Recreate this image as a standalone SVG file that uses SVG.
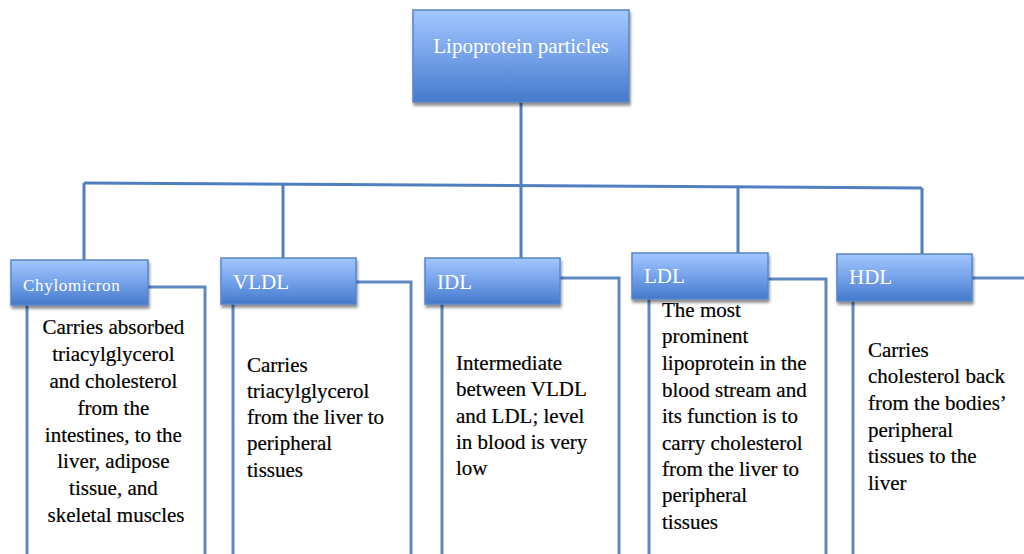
<svg xmlns="http://www.w3.org/2000/svg" width="1024" height="554" viewBox="0 0 1024 554">
<defs>
<linearGradient id="hg" x1="0" y1="0" x2="0" y2="1">
<stop offset="0" stop-color="#a3c6ff"/>
<stop offset="0.45" stop-color="#7aa6ec"/>
<stop offset="1" stop-color="#4479cc"/>
</linearGradient>
<filter id="sh" x="-5%" y="-5%" width="115%" height="125%">
<feGaussianBlur in="SourceAlpha" stdDeviation="1.5"/>
<feOffset dx="1" dy="2.5"/>
<feComponentTransfer><feFuncA type="linear" slope="0.45"/></feComponentTransfer>
<feMerge><feMergeNode/><feMergeNode in="SourceGraphic"/></feMerge>
</filter>
</defs>
<style>
.hdr{fill:url(#hg);stroke:#5a86c6;stroke-width:1.5;filter:url(#sh)}
.ht{font-family:"Liberation Serif","Times New Roman",serif;fill:#ffffff;font-size:21px}
.ct{font-family:"Liberation Serif","Times New Roman",serif;fill:#000000;font-size:21px;stroke:#000000;stroke-width:0.2}
.ln{stroke:#4f7fbf;stroke-width:3;fill:none}
.bx{stroke:#5f88c2;stroke-width:3;fill:none}
</style>
<rect width="1024" height="554" fill="#ffffff"/>
<g id="connectors">
<line class="ln" x1="521" y1="102" x2="521" y2="258"/>
<line class="ln" x1="84" y1="183" x2="922" y2="188"/>
<line class="ln" x1="84" y1="183" x2="84" y2="260"/>
<line class="ln" x1="283" y1="184" x2="283" y2="258"/>
<line class="ln" x1="738" y1="187" x2="738" y2="253"/>
<line class="ln" x1="922" y1="188" x2="922" y2="254"/>
</g>
<g id="root">
<rect class="hdr" x="413" y="10" width="216" height="92"/>
<text class="ht" x="521" y="53" text-anchor="middle">Lipoprotein particles</text>
</g>
<g id="chylomicron">
<path class="bx" d="M27,305 V554 M148,287 H205 V554"/>
<rect class="hdr" x="11" y="260" width="137" height="45"/>
<text class="ht" x="23" y="291" style="font-size:17px;letter-spacing:0.7px">Chylomicron</text>
<text class="ct" text-anchor="middle">
<tspan x="116" y="334">Carries absorbed</tspan>
<tspan x="116" y="361">triacylglycerol</tspan>
<tspan x="116" y="388">and cholesterol</tspan>
<tspan x="116" y="415">from the</tspan>
<tspan x="116" y="442">intestines, to the</tspan>
<tspan x="116" y="468">liver, adipose</tspan>
<tspan x="116" y="495">tissue, and</tspan>
<tspan x="116" y="522">skeletal muscles</tspan>
</text>
</g>
<g id="vldl">
<path class="bx" d="M233,304 V554 M356,282 H411 V554"/>
<rect class="hdr" x="221" y="258" width="135" height="46"/>
<text class="ht" x="233" y="289">VLDL</text>
<text class="ct">
<tspan x="247" y="372">Carries</tspan>
<tspan x="247" y="398">triacylglycerol</tspan>
<tspan x="247" y="424">from the liver to</tspan>
<tspan x="247" y="450">peripheral</tspan>
<tspan x="247" y="477">tissues</tspan>
</text>
</g>
<g id="idl">
<path class="bx" d="M442,304 V554 M560,278 H619 V554"/>
<rect class="hdr" x="425" y="258" width="135" height="46"/>
<text class="ht" x="437" y="289">IDL</text>
<text class="ct">
<tspan x="456" y="370">Intermediate</tspan>
<tspan x="456" y="396">between VLDL</tspan>
<tspan x="456" y="423">and LDL; level</tspan>
<tspan x="456" y="449">in blood is very</tspan>
<tspan x="456" y="475">low</tspan>
</text>
</g>
<g id="ldl">
<path class="bx" d="M649,299 V554 M768,279 H826 V554"/>
<rect class="hdr" x="632" y="253" width="136" height="46"/>
<text class="ht" x="644" y="283">LDL</text>
<text class="ct">
<tspan x="662" y="317">The most</tspan>
<tspan x="662" y="343">prominent</tspan>
<tspan x="662" y="370">lipoprotein in the</tspan>
<tspan x="662" y="397">blood stream and</tspan>
<tspan x="662" y="423">its function is to</tspan>
<tspan x="662" y="450">carry cholesterol</tspan>
<tspan x="662" y="476">from the liver to</tspan>
<tspan x="662" y="502">peripheral</tspan>
<tspan x="662" y="529">tissues</tspan>
</text>
</g>
<g id="hdl">
<path class="bx" d="M853,301 V554 M972,278 H1024"/>
<rect class="hdr" x="837" y="254" width="135" height="47"/>
<text class="ht" x="849" y="284">HDL</text>
<text class="ct">
<tspan x="868" y="357">Carries</tspan>
<tspan x="868" y="383">cholesterol back</tspan>
<tspan x="868" y="410">from the bodies’</tspan>
<tspan x="868" y="437">peripheral</tspan>
<tspan x="868" y="463">tissues to the</tspan>
<tspan x="868" y="490">liver</tspan>
</text>
</g>
</svg>
